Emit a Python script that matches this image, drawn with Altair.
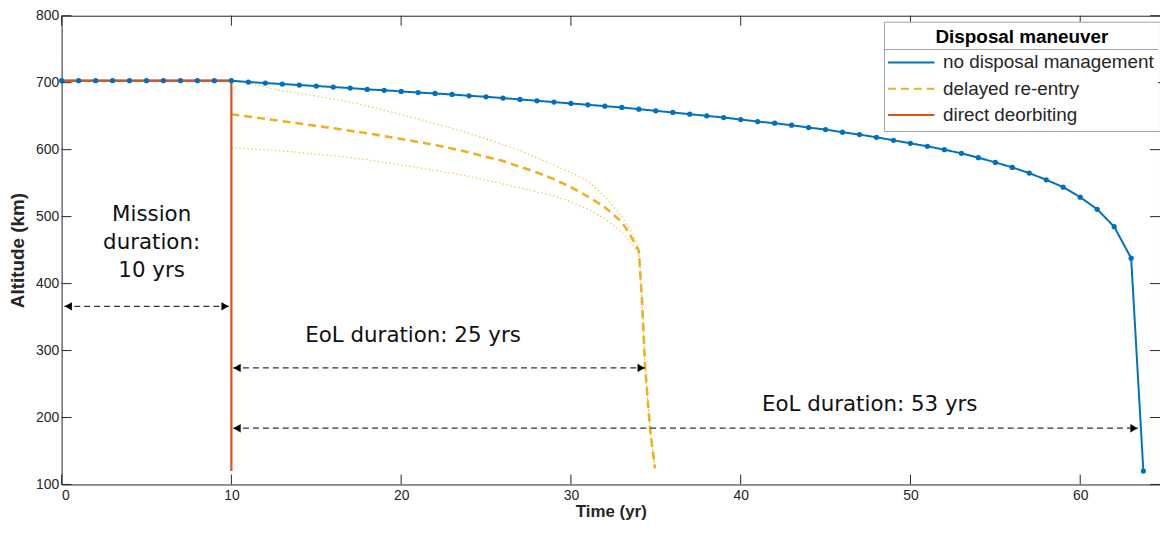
import altair as alt
import pandas as pd

# ---------------- data ----------------
series_names = ["no disposal management", "delayed re-entry", "direct deorbiting"]
series_colors = ["#0072BD", "#EDB120", "#D95319"]

blue_t = list(range(0, 64)) + [63.72]
blue_alt = [703] * 11 + [
    701, 699.5, 698, 696.5, 695, 693.5, 692, 690, 688.7, 687,
    685.3, 683.9, 682.4, 680.4, 679, 677, 675, 673, 671, 669,
    667, 665, 663, 660.5, 658, 655.5, 653, 650.5, 648, 645,
    642, 639.5, 636.5, 633, 630, 626, 622.5, 618.5, 614, 609.5,
    605, 600, 594.5, 588, 581, 573.5, 565, 555, 544, 529,
    511, 485, 438, 120]

delay_t = [10, 12, 14, 16, 18, 20, 22, 24, 26, 28, 29, 30, 31, 32, 33, 33.5, 34,
           34.18, 34.37, 34.66, 34.95]
delay_alt = [653, 646, 639, 632, 624.5, 616, 607, 596, 583, 566, 556, 544, 530, 514, 492, 472, 449,
             378, 276, 183, 124]

orange_t = [0, 10, 10]
orange_alt = [703, 703, 120]

upper_t = [10, 11, 13, 15, 17, 19, 21, 23, 25, 27, 29, 30, 31, 32, 33, 33.5, 34,
           34.18, 34.37, 34.66, 34.95]
upper_alt = [703, 699, 688, 680, 671, 659, 646, 632, 616, 599, 577, 566, 553, 530, 500, 480, 455,
             378, 276, 183, 124]
lower_t = [10, 12, 14, 16, 18, 20, 22, 24, 26, 28, 29, 30, 31, 32, 33, 33.5, 34,
           34.18, 34.37, 34.66, 34.95]
lower_alt = [603, 600, 596, 591, 585, 577, 569, 560, 549, 537, 531, 522, 511, 497, 477, 462, 447,
             378, 276, 183, 124]

arrow_y = [366, 274, 184]
arrow_x0 = [0.16, 10.1, 10.1]
arrow_x1 = [9.86, 34.37, 63.4]

note_text = ["Mission", "duration:", "10 yrs", "EoL duration: 25 yrs", "EoL duration: 53 yrs"]
note_x = [5.3, 5.3, 5.3, 20.7, 47.6]
note_y = [503, 460, 418, 321, 219]

x_ticks = [0, 10, 20, 30, 40, 50, 60]
y_ticks = [100, 200, 300, 400, 500, 600, 700, 800]

# ---------------- tables ----------------
def series_df(name, ts, alts):
    return pd.DataFrame({"series": name, "t": ts, "alt": alts, "i": range(len(ts))})

blue_df = series_df(series_names[0], blue_t, blue_alt)
delay_df = series_df(series_names[1], delay_t, delay_alt)
orange_df = series_df(series_names[2], orange_t, orange_alt)
dot_df = pd.concat([
    pd.DataFrame({"curve": "upper", "t": upper_t, "alt": upper_alt, "i": range(len(upper_t))}),
    pd.DataFrame({"curve": "lower", "t": lower_t, "alt": lower_alt, "i": range(len(lower_t))}),
])
arrow_df = pd.DataFrame({"y": arrow_y, "x0": arrow_x0, "x1": arrow_x1})
note_df = pd.DataFrame({"text": note_text, "x": note_x, "y": note_y})
xt_df = pd.DataFrame({"t": x_ticks})
yt_df = pd.DataFrame({"a": y_ticks})

W, H = 1106, 472
FONT = "Liberation Sans"
LX, LY, LW, LH = 828, 6, 276, 110   # legend box placement (pixels in plot area)

xscale = alt.Scale(domain=[0, 64.7], nice=False, zero=False)
yscale = alt.Scale(domain=[100, 800], nice=False, zero=False)

X = alt.X("t:Q", scale=xscale,
          axis=alt.Axis(values=x_ticks, title="Time (yr)", format="d"))
Y = alt.Y("alt:Q", scale=yscale,
          axis=alt.Axis(values=y_ticks, title="Altitude (km)", format="d"))

legend = alt.Legend(
    orient="none", legendX=LX, legendY=LY,
    title="Disposal maneuver", titleFont=FONT, titleFontSize=19, titleFontWeight="bold",
    titleColor="#000000", titleAnchor="middle", titlePadding=6,
    labelFont=FONT, labelFontSize=19, labelColor="#262626", labelLimit=400,
    symbolType="M-2.6,0L2.6,0", symbolSize=324, symbolOffset=11.5, labelOffset=22,
    symbolStrokeWidth=2, rowPadding=6.5, padding=6,
    strokeColor="#a0a0a0", cornerRadius=0,
)
color = alt.Color("series:N", scale=alt.Scale(domain=series_names, range=series_colors), legend=legend)
dash = alt.StrokeDash("series:N", scale=alt.Scale(domain=series_names, range=[[1, 0], [8, 5], [1, 0]]),
                      legend=legend)

dotted = alt.Chart(dot_df).mark_line(color="#EDB120", strokeWidth=1.2, strokeDash=[1.5, 2.5], opacity=0.75).encode(
    x=X, y=Y, detail="curve:N", order="i:Q")

blue_line = alt.Chart(blue_df).mark_line(strokeWidth=2).encode(
    x=X, y=Y, color=color, strokeDash=dash, order="i:Q")
blue_pts = alt.Chart(blue_df).mark_circle(size=28, color="#0072BD", opacity=1).encode(x=X, y=Y)
delay_line = alt.Chart(delay_df).mark_line(strokeWidth=2.6).encode(
    x=X, y=Y, color=color, strokeDash=dash, order="i:Q")
orange_line = alt.Chart(orange_df).mark_line(strokeWidth=2.2).encode(
    x=X, y=Y, color=color, strokeDash=dash, order="i:Q")

arrows = alt.Chart(arrow_df).mark_rule(color="#333333", strokeWidth=1.3, strokeDash=[6, 4]).encode(
    x=alt.X("x0:Q", scale=xscale), x2="x1:Q", y=alt.Y("y:Q", scale=yscale))
head_l = alt.Chart(arrow_df).mark_point(shape="triangle-left", filled=True, color="#000000",
                                        size=70, opacity=1, xOffset=4).encode(
    x=alt.X("x0:Q", scale=xscale), y=alt.Y("y:Q", scale=yscale))
head_r = alt.Chart(arrow_df).mark_point(shape="triangle-right", filled=True, color="#000000",
                                        size=70, opacity=1, xOffset=-4).encode(
    x=alt.X("x1:Q", scale=xscale), y=alt.Y("y:Q", scale=yscale))

notes = alt.Chart(note_df).mark_text(font="DejaVu Sans", fontSize=21.5, color="#111111").encode(
    x=alt.X("x:Q", scale=xscale), y=alt.Y("y:Q", scale=yscale), text="text:N")

tick_style = dict(color="#262626", strokeWidth=1)
xt_bot = alt.Chart(xt_df).mark_rule(**tick_style).encode(
    x=alt.X("t:Q", scale=xscale), y=alt.value(H), y2=alt.value(H - 10))
xt_top = alt.Chart(xt_df).mark_rule(**tick_style).encode(
    x=alt.X("t:Q", scale=xscale), y=alt.value(0), y2=alt.value(10))
yt_left = alt.Chart(yt_df).mark_rule(**tick_style).encode(
    y=alt.Y("a:Q", scale=yscale), x=alt.value(0), x2=alt.value(10))
yt_right = alt.Chart(yt_df).mark_rule(**tick_style).encode(
    y=alt.Y("a:Q", scale=yscale), x=alt.value(W - 10), x2=alt.value(W))

one = pd.DataFrame({"k": [0]})
legend_bg = alt.Chart(one).mark_rect(color="#ffffff").encode(
    x=alt.value(LX), x2=alt.value(LX + LW), y=alt.value(LY), y2=alt.value(LY + LH))
sep = alt.Chart(one).mark_rule(color="#a0a0a0", strokeWidth=1).encode(
    x=alt.value(LX), x2=alt.value(LX + LW), y=alt.value(LY + 28))

chart = alt.layer(
    dotted, blue_line, delay_line, orange_line, blue_pts,
    arrows, head_l, head_r, notes,
    xt_bot, xt_top, yt_left, yt_right, legend_bg, sep,
).properties(
    width=W, height=H,
    autosize=alt.AutoSizeParams(type="none"),
    padding={"left": 54, "top": 6, "right": 0, "bottom": 36},
    background="white",
).configure_view(
    stroke="#262626", strokeWidth=1,
).configure_axis(
    domain=False, grid=False, ticks=False,
    labelFont=FONT, labelFontSize=14, labelColor="#262626",
    titleFont=FONT, titleFontSize=17, titleFontWeight="bold", titleColor="#262626",
).configure_axisX(
    labelPadding=4, titlePadding=1,
).configure_axisY(
    labelPadding=3, titlePadding=8, titleFontSize=19,
)

chart.save("out.html", embed_options={"renderer": "svg", "actions": False})
